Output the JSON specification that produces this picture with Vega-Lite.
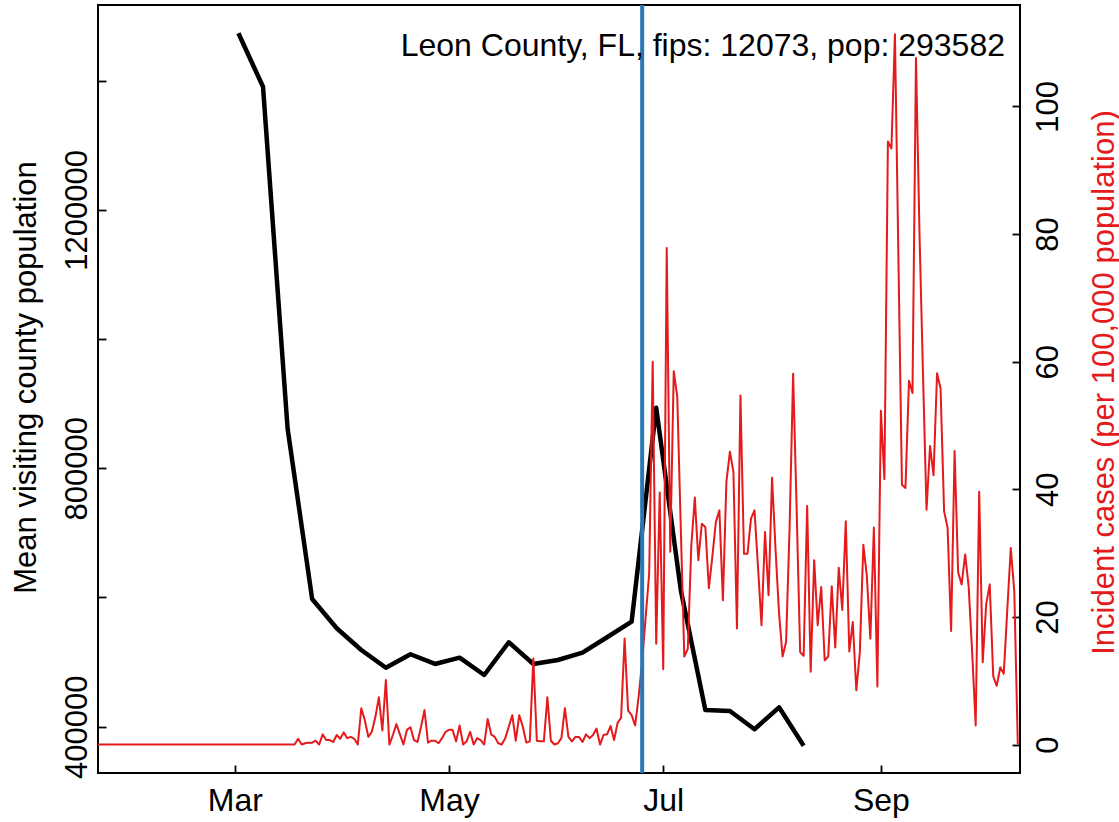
{
  "$schema": "https://vega.github.io/schema/vega-lite/v6.json",
  "width": 922,
  "height": 768,
  "autosize": {"type": "none"},
  "padding": {"left": 98, "top": 5, "right": 99, "bottom": 49},
  "background": "white",
  "config": {
    "font": "Liberation Sans",
    "view": {"stroke": "black", "strokeWidth": 2},
    "axis": {
      "grid": false,
      "domain": false,
      "tickSize": -8,
      "tickWidth": 1.8,
      "tickColor": "black",
      "labelColor": "black",
      "labelFont": "Liberation Sans",
      "labelFontSize": 31,
      "labelOverlap": false,
      "labelFlush": false,
      "titleFont": "Liberation Sans",
      "titleFontSize": 31,
      "titleFontWeight": "normal",
      "titleColor": "black"
    }
  },
  "title": {
    "text": "Leon County, FL, fips: 12073, pop: 293582",
    "anchor": "end",
    "frame": "group",
    "orient": "top",
    "offset": -85,
    "dx": -15,
    "baseline": "alphabetic",
    "font": "Liberation Sans",
    "fontSize": 32,
    "fontWeight": "normal",
    "color": "black"
  },
  "datasets": {
    "mobility": [
      {"date": "2020-03-02", "visitors": 1473400},
      {"date": "2020-03-09", "visitors": 1390700},
      {"date": "2020-03-16", "visitors": 861900},
      {"date": "2020-03-23", "visitors": 597700},
      {"date": "2020-03-30", "visitors": 552300},
      {"date": "2020-04-06", "visitors": 518700},
      {"date": "2020-04-13", "visitors": 491300},
      {"date": "2020-04-20", "visitors": 512100},
      {"date": "2020-04-27", "visitors": 497100},
      {"date": "2020-05-04", "visitors": 506800},
      {"date": "2020-05-11", "visitors": 480000},
      {"date": "2020-05-18", "visitors": 530650},
      {"date": "2020-05-25", "visitors": 497100},
      {"date": "2020-06-01", "visitors": 503250},
      {"date": "2020-06-08", "visitors": 514550},
      {"date": "2020-06-15", "visitors": 538400},
      {"date": "2020-06-22", "visitors": 562500},
      {"date": "2020-06-29", "visitors": 893800},
      {"date": "2020-07-06", "visitors": 611600},
      {"date": "2020-07-13", "visitors": 425850},
      {"date": "2020-07-20", "visitors": 424300},
      {"date": "2020-07-27", "visitors": 395975},
      {"date": "2020-08-03", "visitors": 430000},
      {"date": "2020-08-10", "visitors": 370600}
    ],
    "cases": [
      {"date": "2020-01-22", "cases": 0}, {"date": "2020-01-23", "cases": 0}, {"date": "2020-01-24", "cases": 0}, {"date": "2020-01-25", "cases": 0}, {"date": "2020-01-26", "cases": 0},
      {"date": "2020-01-27", "cases": 0}, {"date": "2020-01-28", "cases": 0}, {"date": "2020-01-29", "cases": 0}, {"date": "2020-01-30", "cases": 0}, {"date": "2020-01-31", "cases": 0},
      {"date": "2020-02-01", "cases": 0}, {"date": "2020-02-02", "cases": 0}, {"date": "2020-02-03", "cases": 0}, {"date": "2020-02-04", "cases": 0}, {"date": "2020-02-05", "cases": 0},
      {"date": "2020-02-06", "cases": 0}, {"date": "2020-02-07", "cases": 0}, {"date": "2020-02-08", "cases": 0}, {"date": "2020-02-09", "cases": 0}, {"date": "2020-02-10", "cases": 0},
      {"date": "2020-02-11", "cases": 0}, {"date": "2020-02-12", "cases": 0}, {"date": "2020-02-13", "cases": 0}, {"date": "2020-02-14", "cases": 0}, {"date": "2020-02-15", "cases": 0},
      {"date": "2020-02-16", "cases": 0}, {"date": "2020-02-17", "cases": 0}, {"date": "2020-02-18", "cases": 0}, {"date": "2020-02-19", "cases": 0}, {"date": "2020-02-20", "cases": 0},
      {"date": "2020-02-21", "cases": 0}, {"date": "2020-02-22", "cases": 0}, {"date": "2020-02-23", "cases": 0}, {"date": "2020-02-24", "cases": 0}, {"date": "2020-02-25", "cases": 0},
      {"date": "2020-02-26", "cases": 0}, {"date": "2020-02-27", "cases": 0}, {"date": "2020-02-28", "cases": 0}, {"date": "2020-02-29", "cases": 0},
      {"date": "2020-03-01", "cases": 0}, {"date": "2020-03-02", "cases": 0}, {"date": "2020-03-03", "cases": 0}, {"date": "2020-03-04", "cases": 0}, {"date": "2020-03-05", "cases": 0},
      {"date": "2020-03-06", "cases": 0}, {"date": "2020-03-07", "cases": 0}, {"date": "2020-03-08", "cases": 0}, {"date": "2020-03-09", "cases": 0}, {"date": "2020-03-10", "cases": 0},
      {"date": "2020-03-11", "cases": 0}, {"date": "2020-03-12", "cases": 0}, {"date": "2020-03-13", "cases": 0}, {"date": "2020-03-14", "cases": 0}, {"date": "2020-03-15", "cases": 0},
      {"date": "2020-03-16", "cases": 0}, {"date": "2020-03-17", "cases": 0}, {"date": "2020-03-18", "cases": 0},
      {"date": "2020-03-19", "cases": 0.9}, {"date": "2020-03-20", "cases": 0}, {"date": "2020-03-21", "cases": 0.2}, {"date": "2020-03-22", "cases": 0.3}, {"date": "2020-03-23", "cases": 0.3},
      {"date": "2020-03-24", "cases": 0.6}, {"date": "2020-03-25", "cases": 0}, {"date": "2020-03-26", "cases": 1.6}, {"date": "2020-03-27", "cases": 0.7}, {"date": "2020-03-28", "cases": 0.7},
      {"date": "2020-03-29", "cases": 0.4}, {"date": "2020-03-30", "cases": 1.5}, {"date": "2020-03-31", "cases": 0.9},
      {"date": "2020-04-01", "cases": 1.9}, {"date": "2020-04-02", "cases": 1.0}, {"date": "2020-04-03", "cases": 1.2}, {"date": "2020-04-04", "cases": 0.9}, {"date": "2020-04-05", "cases": 0},
      {"date": "2020-04-06", "cases": 5.7}, {"date": "2020-04-07", "cases": 3.8}, {"date": "2020-04-08", "cases": 1.2}, {"date": "2020-04-09", "cases": 2.0}, {"date": "2020-04-10", "cases": 4.3},
      {"date": "2020-04-11", "cases": 7.4}, {"date": "2020-04-12", "cases": 2.2}, {"date": "2020-04-13", "cases": 10.1}, {"date": "2020-04-14", "cases": 0}, {"date": "2020-04-15", "cases": 1.5},
      {"date": "2020-04-16", "cases": 3.2}, {"date": "2020-04-17", "cases": 1.6}, {"date": "2020-04-18", "cases": 0}, {"date": "2020-04-19", "cases": 2.3}, {"date": "2020-04-20", "cases": 2.7},
      {"date": "2020-04-21", "cases": 0.7}, {"date": "2020-04-22", "cases": 0.4}, {"date": "2020-04-23", "cases": 2.7}, {"date": "2020-04-24", "cases": 5.4}, {"date": "2020-04-25", "cases": 0.3},
      {"date": "2020-04-26", "cases": 0.6}, {"date": "2020-04-27", "cases": 0.6}, {"date": "2020-04-28", "cases": 0.2}, {"date": "2020-04-29", "cases": 1.0}, {"date": "2020-04-30", "cases": 2.0},
      {"date": "2020-05-01", "cases": 2.3}, {"date": "2020-05-02", "cases": 2.3}, {"date": "2020-05-03", "cases": 0.5}, {"date": "2020-05-04", "cases": 3.0}, {"date": "2020-05-05", "cases": 0},
      {"date": "2020-05-06", "cases": 0.5}, {"date": "2020-05-07", "cases": 2.0}, {"date": "2020-05-08", "cases": 0}, {"date": "2020-05-09", "cases": 1.0}, {"date": "2020-05-10", "cases": 0.7},
      {"date": "2020-05-11", "cases": 0}, {"date": "2020-05-12", "cases": 4.0}, {"date": "2020-05-13", "cases": 1.6}, {"date": "2020-05-14", "cases": 1.2}, {"date": "2020-05-15", "cases": 0.2},
      {"date": "2020-05-16", "cases": 0}, {"date": "2020-05-17", "cases": 1.0}, {"date": "2020-05-18", "cases": 2.8}, {"date": "2020-05-19", "cases": 4.6}, {"date": "2020-05-20", "cases": 0.6},
      {"date": "2020-05-21", "cases": 4.6}, {"date": "2020-05-22", "cases": 2.8}, {"date": "2020-05-23", "cases": 0.3}, {"date": "2020-05-24", "cases": 0.5}, {"date": "2020-05-25", "cases": 13.5},
      {"date": "2020-05-26", "cases": 0.6}, {"date": "2020-05-27", "cases": 0.5}, {"date": "2020-05-28", "cases": 0.5}, {"date": "2020-05-29", "cases": 7.4}, {"date": "2020-05-30", "cases": 0.6},
      {"date": "2020-05-31", "cases": 0},
      {"date": "2020-06-01", "cases": 0.2}, {"date": "2020-06-02", "cases": 1.0}, {"date": "2020-06-03", "cases": 5.7}, {"date": "2020-06-04", "cases": 1.2}, {"date": "2020-06-05", "cases": 0.5},
      {"date": "2020-06-06", "cases": 1.2}, {"date": "2020-06-07", "cases": 1.2}, {"date": "2020-06-08", "cases": 0.4}, {"date": "2020-06-09", "cases": 1.6}, {"date": "2020-06-10", "cases": 1.0},
      {"date": "2020-06-11", "cases": 1.5}, {"date": "2020-06-12", "cases": 2.5}, {"date": "2020-06-13", "cases": 0}, {"date": "2020-06-14", "cases": 1.5}, {"date": "2020-06-15", "cases": 1.6},
      {"date": "2020-06-16", "cases": 2.9}, {"date": "2020-06-17", "cases": 0.7}, {"date": "2020-06-18", "cases": 3.4}, {"date": "2020-06-19", "cases": 4.2}, {"date": "2020-06-20", "cases": 16.6},
      {"date": "2020-06-21", "cases": 5.3}, {"date": "2020-06-22", "cases": 4.6}, {"date": "2020-06-23", "cases": 3.0}, {"date": "2020-06-24", "cases": 7.5}, {"date": "2020-06-25", "cases": 13},
      {"date": "2020-06-26", "cases": 20}, {"date": "2020-06-27", "cases": 26.8}, {"date": "2020-06-28", "cases": 60.0}, {"date": "2020-06-29", "cases": 15.8}, {"date": "2020-06-30", "cases": 39.5},
      {"date": "2020-07-01", "cases": 11.8}, {"date": "2020-07-02", "cases": 77.8}, {"date": "2020-07-03", "cases": 30.2}, {"date": "2020-07-04", "cases": 58.5}, {"date": "2020-07-05", "cases": 54.5},
      {"date": "2020-07-06", "cases": 34}, {"date": "2020-07-07", "cases": 13.8}, {"date": "2020-07-08", "cases": 15.0}, {"date": "2020-07-09", "cases": 31.2}, {"date": "2020-07-10", "cases": 38.7},
      {"date": "2020-07-11", "cases": 28.9}, {"date": "2020-07-12", "cases": 34.6}, {"date": "2020-07-13", "cases": 34.1}, {"date": "2020-07-14", "cases": 24.5}, {"date": "2020-07-15", "cases": 29.5},
      {"date": "2020-07-16", "cases": 34.9}, {"date": "2020-07-17", "cases": 36.7}, {"date": "2020-07-18", "cases": 22.6}, {"date": "2020-07-19", "cases": 41.2}, {"date": "2020-07-20", "cases": 45.9},
      {"date": "2020-07-21", "cases": 42.7}, {"date": "2020-07-22", "cases": 18.2}, {"date": "2020-07-23", "cases": 54.7}, {"date": "2020-07-24", "cases": 29.9}, {"date": "2020-07-25", "cases": 29.9},
      {"date": "2020-07-26", "cases": 35.4}, {"date": "2020-07-27", "cases": 36.7}, {"date": "2020-07-28", "cases": 27.8}, {"date": "2020-07-29", "cases": 18.7}, {"date": "2020-07-30", "cases": 33.3},
      {"date": "2020-07-31", "cases": 23.4},
      {"date": "2020-08-01", "cases": 41.8}, {"date": "2020-08-02", "cases": 30.5}, {"date": "2020-08-03", "cases": 20.5}, {"date": "2020-08-04", "cases": 13.8}, {"date": "2020-08-05", "cases": 16.1},
      {"date": "2020-08-06", "cases": 34.1}, {"date": "2020-08-07", "cases": 58.1}, {"date": "2020-08-08", "cases": 37}, {"date": "2020-08-09", "cases": 14.5}, {"date": "2020-08-10", "cases": 13.9},
      {"date": "2020-08-11", "cases": 37.4}, {"date": "2020-08-12", "cases": 11.4}, {"date": "2020-08-13", "cases": 28.9}, {"date": "2020-08-14", "cases": 18.7}, {"date": "2020-08-15", "cases": 24.7},
      {"date": "2020-08-16", "cases": 13.2}, {"date": "2020-08-17", "cases": 13.8}, {"date": "2020-08-18", "cases": 24.8}, {"date": "2020-08-19", "cases": 15.2}, {"date": "2020-08-20", "cases": 27.7},
      {"date": "2020-08-21", "cases": 21.1}, {"date": "2020-08-22", "cases": 35.0}, {"date": "2020-08-23", "cases": 14.6}, {"date": "2020-08-24", "cases": 19.2}, {"date": "2020-08-25", "cases": 8.5},
      {"date": "2020-08-26", "cases": 14.4}, {"date": "2020-08-27", "cases": 31.3}, {"date": "2020-08-28", "cases": 26.4}, {"date": "2020-08-29", "cases": 16.6}, {"date": "2020-08-30", "cases": 34.0},
      {"date": "2020-08-31", "cases": 9.1},
      {"date": "2020-09-01", "cases": 52.3}, {"date": "2020-09-02", "cases": 41.6}, {"date": "2020-09-03", "cases": 94.5}, {"date": "2020-09-04", "cases": 93.4}, {"date": "2020-09-05", "cases": 111.3},
      {"date": "2020-09-06", "cases": 76}, {"date": "2020-09-07", "cases": 40.7}, {"date": "2020-09-08", "cases": 40.2}, {"date": "2020-09-09", "cases": 57.0}, {"date": "2020-09-10", "cases": 55.1},
      {"date": "2020-09-11", "cases": 107.6}, {"date": "2020-09-12", "cases": 80}, {"date": "2020-09-13", "cases": 58}, {"date": "2020-09-14", "cases": 36.8}, {"date": "2020-09-15", "cases": 46.8},
      {"date": "2020-09-16", "cases": 42.2}, {"date": "2020-09-17", "cases": 58.2}, {"date": "2020-09-18", "cases": 55.8}, {"date": "2020-09-19", "cases": 36.6}, {"date": "2020-09-20", "cases": 34.0},
      {"date": "2020-09-21", "cases": 17.8}, {"date": "2020-09-22", "cases": 46.0}, {"date": "2020-09-23", "cases": 27.0}, {"date": "2020-09-24", "cases": 25.1}, {"date": "2020-09-25", "cases": 29.8},
      {"date": "2020-09-26", "cases": 24.8}, {"date": "2020-09-27", "cases": 14.4}, {"date": "2020-09-28", "cases": 3.0}, {"date": "2020-09-29", "cases": 39.6}, {"date": "2020-09-30", "cases": 12.9},
      {"date": "2020-10-01", "cases": 22.0}, {"date": "2020-10-02", "cases": 25.1}, {"date": "2020-10-03", "cases": 10.7}, {"date": "2020-10-04", "cases": 9.2}, {"date": "2020-10-05", "cases": 12.1},
      {"date": "2020-10-06", "cases": 11.1}, {"date": "2020-10-07", "cases": 21.1}, {"date": "2020-10-08", "cases": 30.8}, {"date": "2020-10-09", "cases": 24.0}, {"date": "2020-10-10", "cases": 0}
    ],
    "marker": [
      {"date": "2020-06-25"}
    ]
  },
  "encoding": {
    "x": {
      "field": "date",
      "type": "temporal",
      "scale": {
        "type": "utc",
        "domain": [
          {"year": 2020, "month": 1, "date": 22, "utc": true},
          {"year": 2020, "month": 10, "date": 10, "hours": 15, "utc": true}
        ]
      },
      "axis": {
        "orient": "bottom",
        "title": null,
        "values": [
          {"year": 2020, "month": 3, "date": 1, "utc": true},
          {"year": 2020, "month": 5, "date": 1, "utc": true},
          {"year": 2020, "month": 7, "date": 1, "utc": true},
          {"year": 2020, "month": 9, "date": 1, "utc": true}
        ],
        "labelExpr": "utcFormat(datum.value, '%b')",
        "labelFontSize": 32,
        "labelBaseline": "alphabetic",
        "labelAlign": "center",
        "labelPadding": 45
      }
    }
  },
  "layer": [
    {
      "data": {"name": "mobility"},
      "mark": {"type": "line", "color": "black", "strokeWidth": 4.5, "strokeJoin": "round", "strokeCap": "butt"},
      "encoding": {
        "y": {
          "field": "visitors",
          "type": "quantitative",
          "scale": {"domain": [328300, 1517200], "zero": false, "nice": false},
          "axis": {
            "orient": "left",
            "values": [400000, 600000, 800000, 1000000, 1200000, 1400000],
            "labelExpr": "datum.value % 400000 == 0 ? format(datum.value, 'd') : ''",
            "labelAngle": -90,
            "labelAlign": "center",
            "labelBaseline": "alphabetic",
            "labelPadding": 20,
            "title": "Mean visiting county population",
            "titleAngle": -90,
            "titleAlign": "center",
            "titleBaseline": "alphabetic",
            "titleX": -63,
            "titleY": 372
          }
        }
      }
    },
    {
      "data": {"name": "cases"},
      "mark": {"type": "line", "color": "#e41a1c", "strokeWidth": 2, "strokeJoin": "round"},
      "encoding": {
        "y": {
          "field": "cases",
          "type": "quantitative",
          "scale": {"domain": [-4.46, 115.9], "zero": false, "nice": false},
          "axis": {
            "orient": "right",
            "values": [0, 20, 40, 60, 80, 100],
            "labelAngle": -90,
            "labelAlign": "center",
            "labelBaseline": "alphabetic",
            "labelPadding": 45,
            "title": "Incident cases (per 100,000 population)",
            "titleColor": "#e41a1c",
            "titleAngle": -90,
            "titleAlign": "center",
            "titleBaseline": "alphabetic",
            "titleX": 93,
            "titleY": 377
          }
        }
      }
    },
    {
      "data": {"name": "marker"},
      "mark": {"type": "rule", "color": "#2878b8", "strokeWidth": 4},
      "encoding": {}
    }
  ],
  "resolve": {"scale": {"y": "independent"}}
}
